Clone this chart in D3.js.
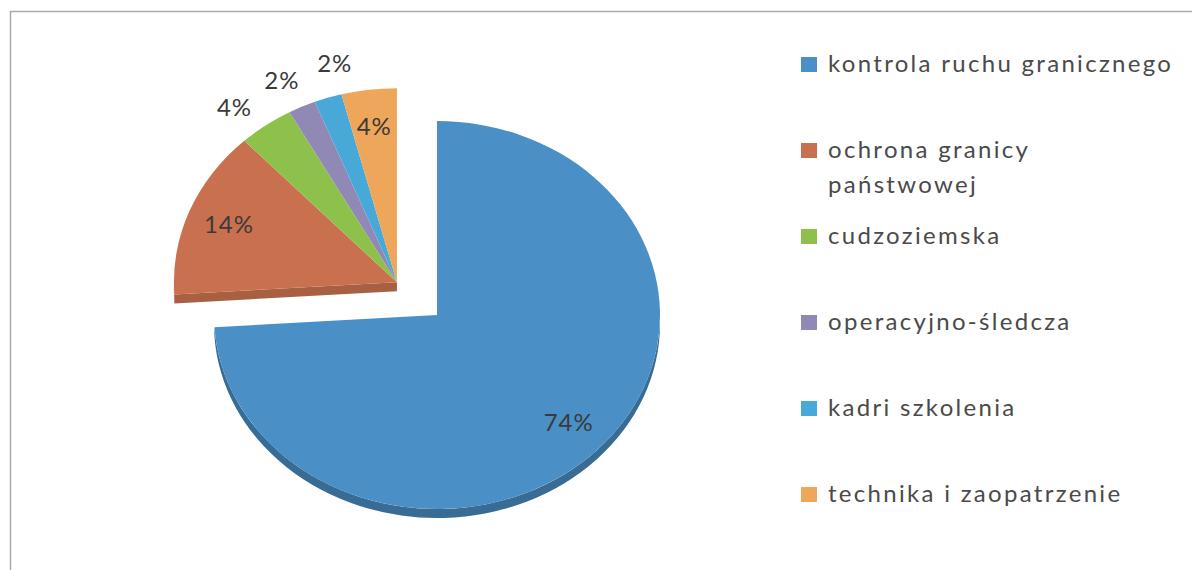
<!DOCTYPE html>
<html>
<head>
<meta charset="utf-8">
<script src="https://cdn.jsdelivr.net/npm/d3@7"></script>
<style>
  body { margin: 0; background: #fff; }
  text { font-family: Lato, "Open Sans", sans-serif; }
</style>
</head>
<body>
<div id="pie-chart"></div>
<script>
// data
const categories = ["kontrola ruchu granicznego", "ochrona granicy państwowej", "cudzoziemska",
                    "operacyjno-śledcza", "kadri szkolenia", "technika i zaopatrzenie"];
const values = [74, 14, 4, 2, 2, 4];
const colors = ["#4a8fc6", "#c9714f", "#8dc14b", "#9189b5", "#48a9d8", "#eea65a"];
const outsideLabels = ["cudzoziemska", "operacyjno-śledcza", "kadri szkolenia"];
const legendBreaks = { "ochrona granicy państwowej": ["ochrona granicy", "państwowej"] };

const width = 1192;
const height = 570;

// pie geometry (ellipse, slightly tilted look)
const rx = 223, ry = 194, depth = 9;
const cx = 437, cy = 315;
const explodeDist = 55;

const svg = d3.select("#pie-chart")
  .append("svg")
  .attr("width", width)
  .attr("height", height);

// frame
svg.append("rect")
  .attr("x", 10.5).attr("y", 11.5)
  .attr("width", 1300).attr("height", 700)
  .attr("fill", "none")
  .attr("stroke", "#aaa")
  .attr("stroke-width", 1.5);

const arcs = d3.pie().sort(null).value(d => d)(values);

// slices 1..5 are pulled out as one block
const grpStart = arcs[1].startAngle, grpEnd = arcs[arcs.length - 1].endAngle;
const grpMid = (grpStart + grpEnd) / 2;
const ex = { x: cx + explodeDist * Math.sin(grpMid), y: cy - explodeDist * Math.cos(grpMid) * ry / rx };

const arc = d3.arc().innerRadius(0).outerRadius(rx);
const k = ry / rx;
const dScaled = depth / k;

function sidePath(a0, a1) {
  // visible outer rim only where the slice faces the viewer (bottom half)
  const lo = Math.max(a0, Math.PI / 2), hi = Math.min(a1, Math.PI * 1.5);
  if (hi <= lo) return null;
  const p = d3.path();
  p.arc(0, 0, rx, lo - Math.PI / 2, hi - Math.PI / 2, false);
  p.lineTo(rx * Math.sin(hi), -rx * Math.cos(hi) + dScaled);
  p.arc(0, dScaled, rx, hi - Math.PI / 2, lo - Math.PI / 2, true);
  p.closePath();
  return p.toString();
}

function facePath(a) {
  const p = d3.path();
  p.moveTo(0, 0);
  p.lineTo(rx * Math.sin(a), -rx * Math.cos(a));
  p.lineTo(rx * Math.sin(a), -rx * Math.cos(a) + dScaled);
  p.lineTo(0, dScaled);
  p.closePath();
  return p.toString();
}

function drawGroup(items, center, faceStart) {
  const g = svg.append("g")
    .attr("transform", `translate(${center.x},${center.y}) scale(1,${k})`);
  // cut face that looks towards the viewer
  if (faceStart !== null && -Math.sin(faceStart.startAngle) > 0) {
    g.append("path")
      .attr("d", facePath(faceStart.startAngle))
      .attr("fill", d3.color(colors[faceStart.index]).darker(0.5));
  }
  items.forEach(d => {
    const sp = sidePath(d.startAngle, d.endAngle);
    if (sp) g.append("path").attr("d", sp).attr("fill", d3.color(colors[d.index]).darker(0.8));
  });
  g.selectAll("path.top")
    .data(items)
    .join("path")
    .attr("class", "top")
    .attr("d", arc)
    .attr("fill", d => colors[d.index]);
}

drawGroup([arcs[0]], { x: cx, y: cy }, null);
drawGroup(arcs.slice(1), ex, arcs[1]);

// label angles; outside labels get spread apart so they do not collide
const labelAngle = arcs.map(d => (d.startAngle + d.endAngle) / 2);
const outIdx = arcs.filter(d => outsideLabels.includes(categories[d.index])).map(d => d.index);
const minGap = 12.5 * Math.PI / 180;
for (let it = 0; it < 50; it++) {
  for (let j = 1; j < outIdx.length; j++) {
    const a = outIdx[j - 1], b = outIdx[j];
    const gap = labelAngle[b] - labelAngle[a];
    if (gap < minGap) {
      const push = (minGap - gap) / 2;
      labelAngle[a] -= push;
      labelAngle[b] += push;
    }
  }
}

arcs.forEach(d => {
  const c = d.index === 0 ? { x: cx, y: cy } : ex;
  const mid = labelAngle[d.index];
  const outside = outIdx.includes(d.index);
  const f = outside ? 1.16 : 0.81;
  svg.append("text")
    .attr("x", c.x + f * rx * Math.sin(mid))
    .attr("y", c.y - f * ry * Math.cos(mid))
    .attr("dy", "0.35em")
    .attr("text-anchor", "middle")
    .attr("font-size", 24)
    .attr("letter-spacing", 1)
    .attr("fill", "#3a3a3a")
    .text(values[d.index] + "%");
});

// legend
const legendY = d3.scaleLinear().domain([0, categories.length - 1]).range([65, 495]);
const legend = svg.append("g");
categories.forEach((name, i) => {
  const y = legendY(i);
  legend.append("rect")
    .attr("x", 801).attr("y", y - 8)
    .attr("width", 16).attr("height", 15)
    .attr("fill", colors[i]);
  const lines = legendBreaks[name] || [name];
  const t = legend.append("text")
    .attr("x", 828).attr("y", y + 7)
    .attr("font-size", 24)
    .attr("letter-spacing", 2.3)
    .attr("fill", "#4a4a4a");
  lines.forEach((ln, j) => {
    t.append("tspan").attr("x", 828).attr("dy", j === 0 ? 0 : 35).text(ln);
  });
});
</script>
</body>
</html>
